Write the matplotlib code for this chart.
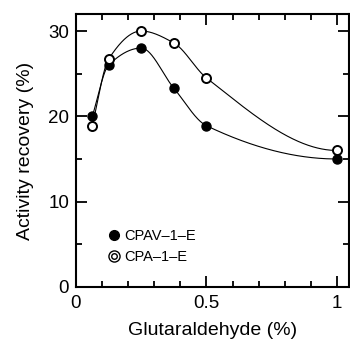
import numpy as np
import matplotlib.pyplot as plt
from matplotlib.lines import Line2D
from matplotlib.ticker import MultipleLocator

plt.rcParams['font.family'] = ['Liberation Sans', 'DejaVu Sans']

# data
glut = [0.0625, 0.125, 0.25, 0.375, 0.5, 1.0]
cpav = [20.0, 26.0, 28.0, 23.3, 18.9, 15.0]
cpa = [18.9, 26.7, 30.0, 28.6, 24.5, 16.0]


def pchip(x, y, xs):
    # monotone cubic (Fritsch-Carlson) for the smooth guide lines
    x = np.asarray(x, float)
    y = np.asarray(y, float)
    h = np.diff(x)
    d = np.diff(y) / h
    m = np.zeros_like(y)
    for k in range(1, len(x) - 1):
        if d[k - 1] * d[k] > 0:
            w1 = 2 * h[k] + h[k - 1]
            w2 = h[k] + 2 * h[k - 1]
            m[k] = (w1 + w2) / (w1 / d[k - 1] + w2 / d[k])
    m[0] = d[0]
    m[-1] = 0.0
    idx = np.clip(np.searchsorted(x, xs) - 1, 0, len(x) - 2)
    t = (xs - x[idx]) / h[idx]
    h00 = 2 * t**3 - 3 * t**2 + 1
    h10 = t**3 - 2 * t**2 + t
    h01 = -2 * t**3 + 3 * t**2
    h11 = t**3 - t**2
    return (h00 * y[idx] + h10 * h[idx] * m[idx]
            + h01 * y[idx + 1] + h11 * h[idx] * m[idx + 1])


fig = plt.figure(figsize=(3.5, 3.4), dpi=100)
ax = fig.add_axes([0.217, 0.156, 0.78, 0.803])

xs = np.linspace(glut[0], glut[-1], 400)
ax.plot(xs, pchip(glut, cpav, xs), color='black', lw=0.8)
ax.plot(xs, pchip(glut, cpa, xs), color='black', lw=0.8)
ax.plot(glut, cpav, 'o', color='black', ms=6.5, zorder=3)
ax.plot(glut, cpa, 'o', mfc='white', mec='black', mew=1.4, ms=6.5, zorder=3)

ax.set_xlim(0, 1.046)
ax.set_ylim(0, 32)
ax.xaxis.set_minor_locator(MultipleLocator(0.1))
ax.yaxis.set_major_locator(MultipleLocator(10))
ax.yaxis.set_minor_locator(MultipleLocator(5))
ax.set_xticks([0, 0.5, 1])
ax.set_xticklabels(['0', '0.5', '1'])
ax.tick_params(which='both', direction='in', top=True, right=True,
               width=1.3, labelsize=13.5)
ax.tick_params(which='major', length=8)
ax.tick_params(axis='x', which='major', pad=6)
ax.tick_params(axis='y', which='major', pad=5)
ax.tick_params(which='minor', length=4)
for s in ax.spines.values():
    s.set_linewidth(1.5)

ax.set_xlabel('Glutaraldehyde (%)', fontsize=14, labelpad=7)
ax.set_ylabel('Activity recovery (%)', fontsize=14, labelpad=10)

h1 = Line2D([], [], ls='none', marker='o', color='black', ms=7)
h2a = Line2D([], [], ls='none', marker='o', mfc='white', mec='black', mew=1.0, ms=8)
h2b = Line2D([], [], ls='none', marker='o', mfc='white', mec='black', mew=1.0, ms=4)
ax.legend([h1, (h2a, h2b)], ['CPAV\u20131\u2013E', 'CPA\u20131\u2013E'],
          loc='lower left', bbox_to_anchor=(0.065, 0.035), frameon=False,
          fontsize=10.5, handlelength=1.0, handletextpad=0.2, labelspacing=0.5)

fig.savefig('out.png', dpi=100)
